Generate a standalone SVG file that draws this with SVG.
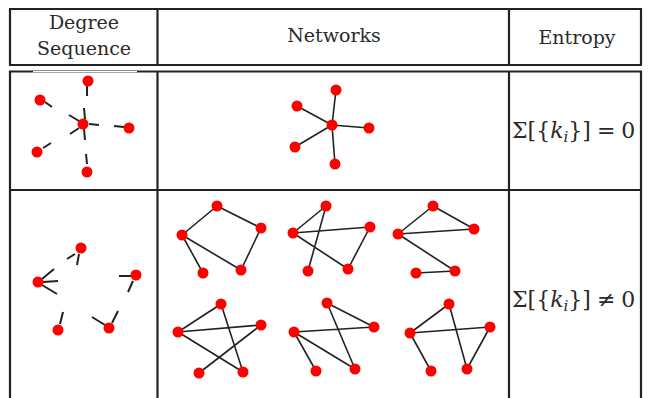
<svg xmlns="http://www.w3.org/2000/svg" width="650" height="398" viewBox="0 0 650 398">
<style>
.grid{stroke:#222;stroke-width:2.2;fill:none}
.hd{font-family:"DejaVu Serif","Liberation Serif",serif;font-size:19px;fill:#2a2a2a;text-anchor:middle}
.eq{font-family:"DejaVu Serif","Liberation Serif",serif;font-size:22px;fill:#2a2a2a}
.e{stroke:#222;stroke-width:1.6;fill:none}
.s{stroke:#222;stroke-width:2;fill:none}
.n{fill:#f00}
</style>
<rect width="650" height="398" fill="#fff"/>
<g id="table">
<path class="grid" d="M9 9H642M9 65H642M9 71.5H642M9 190H642M10 9V65M10 71V398M157.5 9V65M157.5 71V398M509 9V65M509 71V398M641 9V65M641 71V398"/>
<rect x="33" y="71" width="104" height="1.2" fill="#fff"/>
</g>
<g id="header">
<text class="hd" x="84" y="29">Degree</text>
<text class="hd" x="84" y="55">Sequence</text>
<text class="hd" x="334" y="42">Networks</text>
<text class="hd" x="577" y="44">Entropy</text>
</g>
<g id="degree-star">
<g class="s">
<path d="M84 108L85 119M69 115L79 121M70 134L79 128M89 124L99 125M84 129L85 140"/>
<path d="M87 86L87 96M45 102L52 107M114 126L124 127M43 148L51 143M86 154L87 164"/>
</g>
<circle class="n" cx="83" cy="124" r="5.5"/>
<circle class="n" cx="88" cy="81" r="5.5"/>
<circle class="n" cx="40" cy="100" r="5.5"/>
<circle class="n" cx="129" cy="128" r="5.5"/>
<circle class="n" cx="37" cy="152" r="5.5"/>
<circle class="n" cx="87" cy="172" r="5.5"/>
</g>
<g id="network-star">
<g class="e">
<path d="M332 125L336 90M332 125L297 106M332 125L369 128M332 125L295 147M332 125L335 164"/>
</g>
<circle class="n" cx="332" cy="125" r="5.5"/>
<circle class="n" cx="336" cy="90" r="5.5"/>
<circle class="n" cx="297" cy="106" r="5.5"/>
<circle class="n" cx="369" cy="128" r="5.5"/>
<circle class="n" cx="295" cy="147" r="5.5"/>
<circle class="n" cx="335" cy="164" r="5.5"/>
</g>
<g id="degree-stubs">
<g class="s">
<path d="M75 254L67 259M79 254L77 265"/>
<path d="M42 279L54 269M43 282L58 281M42 285L57 294"/>
<path d="M119 276L131 276M128 292L133 281"/>
<path d="M60 324L63 312"/>
<path d="M92 317L105 325M112 323L118 311"/>
</g>
<circle class="n" cx="81" cy="248" r="5.5"/>
<circle class="n" cx="38" cy="282" r="5.5"/>
<circle class="n" cx="136" cy="275" r="5.5"/>
<circle class="n" cx="58" cy="330" r="5.5"/>
<circle class="n" cx="109" cy="328" r="5.5"/>
</g>
<g id="net1">
<path class="e" d="M217 206L182 235M217 206L261 228M261 228L241 270M182 235L241 270M182 235L203 273"/>
<circle class="n" cx="217" cy="206" r="5.5"/><circle class="n" cx="182" cy="235" r="5.5"/><circle class="n" cx="261" cy="228" r="5.5"/><circle class="n" cx="203" cy="273" r="5.5"/><circle class="n" cx="241" cy="270" r="5.5"/>
</g>
<g id="net2">
<path class="e" d="M326 206L293 233M326 206L308 271M293 233L370 227M293 233L348 269M370 227L348 269"/>
<circle class="n" cx="326" cy="206" r="5.5"/><circle class="n" cx="293" cy="233" r="5.5"/><circle class="n" cx="370" cy="227" r="5.5"/><circle class="n" cx="308" cy="271" r="5.5"/><circle class="n" cx="348" cy="269" r="5.5"/>
</g>
<g id="net3">
<path class="e" d="M433 206L398 234M433 206L474 229M398 234L474 229M398 234L455 271M416 273L455 271"/>
<circle class="n" cx="433" cy="206" r="5.5"/><circle class="n" cx="398" cy="234" r="5.5"/><circle class="n" cx="474" cy="229" r="5.5"/><circle class="n" cx="416" cy="273" r="5.5"/><circle class="n" cx="455" cy="271" r="5.5"/>
</g>
<g id="net4">
<path class="e" d="M178 332L221 304M178 332L261 325M221 304L243 372M178 332L243 372M261 325L199 373"/>
<circle class="n" cx="221" cy="304" r="5.5"/><circle class="n" cx="178" cy="332" r="5.5"/><circle class="n" cx="261" cy="325" r="5.5"/><circle class="n" cx="199" cy="373" r="5.5"/><circle class="n" cx="243" cy="372" r="5.5"/>
</g>
<g id="net5">
<path class="e" d="M327 303L374 327M327 303L355 369M294 332L374 327M294 332L316 371M294 332L355 369"/>
<circle class="n" cx="327" cy="303" r="5.5"/><circle class="n" cx="294" cy="332" r="5.5"/><circle class="n" cx="374" cy="327" r="5.5"/><circle class="n" cx="316" cy="371" r="5.5"/><circle class="n" cx="355" cy="369" r="5.5"/>
</g>
<g id="net6">
<path class="e" d="M410 333L449 304M449 304L467 369M410 333L490 327M490 327L467 369M410 333L431 371"/>
<circle class="n" cx="449" cy="304" r="5.5"/><circle class="n" cx="410" cy="333" r="5.5"/><circle class="n" cx="490" cy="327" r="5.5"/><circle class="n" cx="431" cy="371" r="5.5"/><circle class="n" cx="467" cy="369" r="5.5"/>
</g>
<g id="entropy">
<text class="eq" x="512" y="138">Σ[{<tspan font-style="italic">k</tspan><tspan font-style="italic" font-size="15" dy="4">i</tspan><tspan dy="-4">}]</tspan><tspan dx="6">=</tspan><tspan dx="6">0</tspan></text>
<text class="eq" x="512" y="307">Σ[{<tspan font-style="italic">k</tspan><tspan font-style="italic" font-size="15" dy="4">i</tspan><tspan dy="-4">}]</tspan><tspan dx="6">≠</tspan><tspan dx="6">0</tspan></text>
</g>
</svg>
